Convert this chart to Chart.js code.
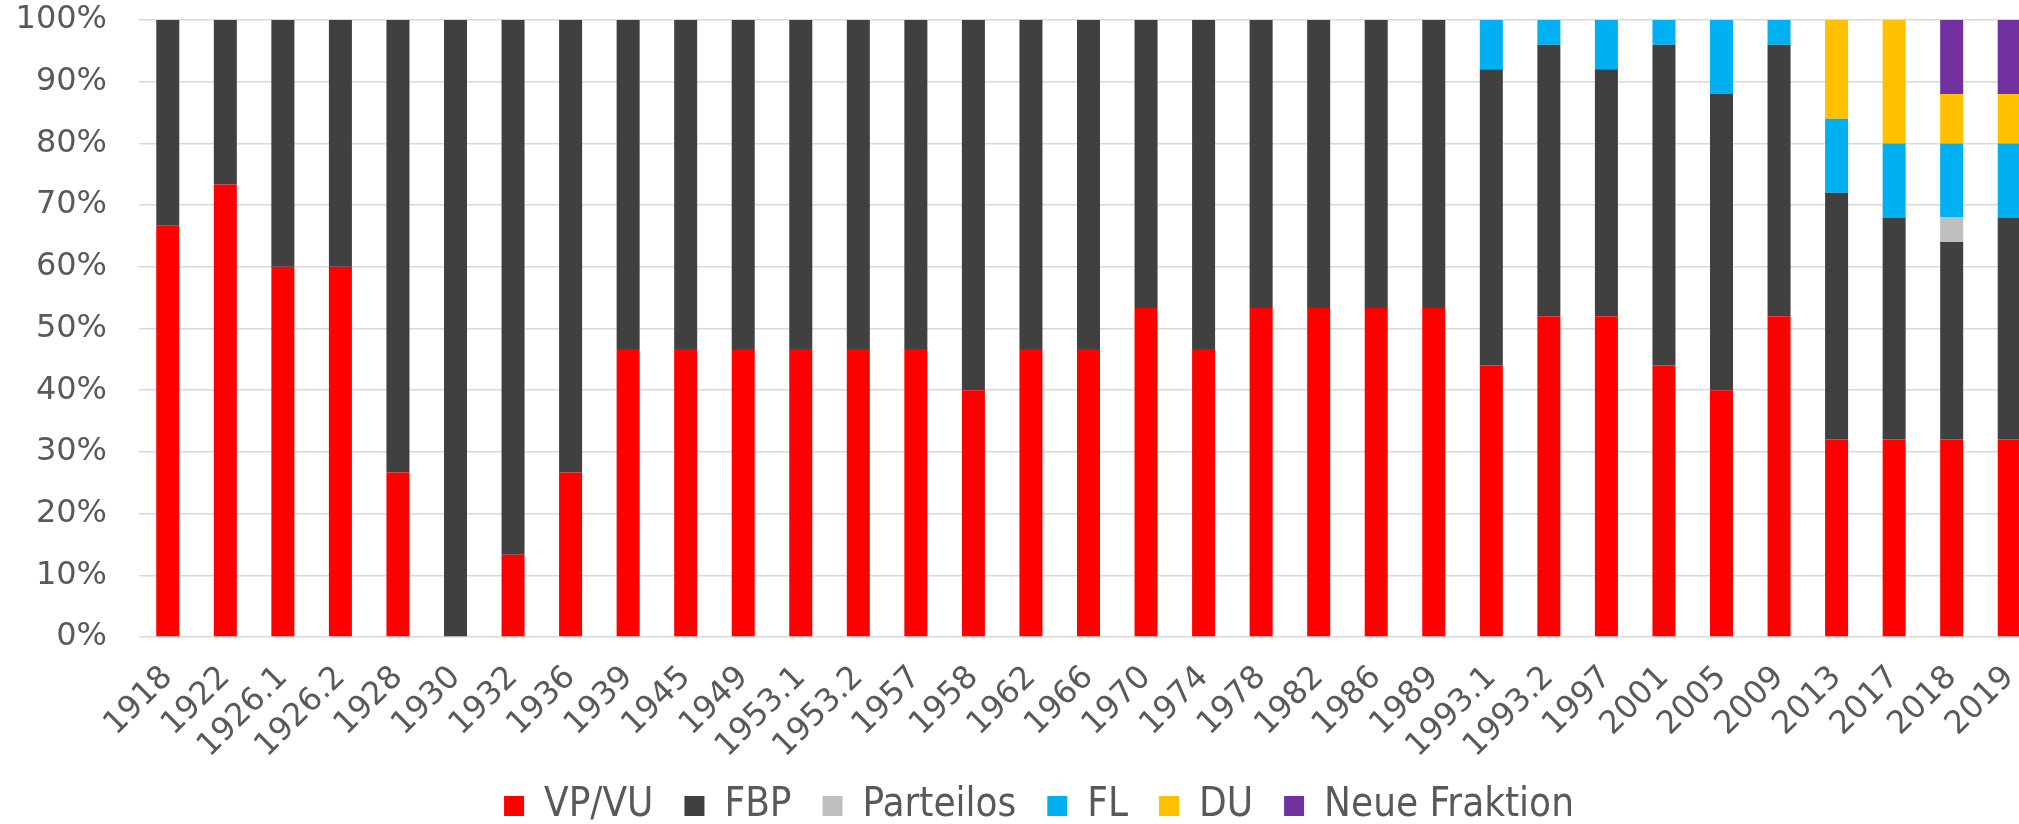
<!DOCTYPE html>
<html>
<head>
<meta charset="utf-8">
<script src="https://cdn.jsdelivr.net/npm/chart.js@4"></script>
<style>
  html, body { margin: 0; padding: 0; overflow: hidden; background: #fff; }
  #wrap { position: absolute; left: 0; top: 0; width: 2076px; height: 836px; }
</style>
</head>
<body>
<div id="wrap"><canvas id="c"></canvas></div>
<script>
const categories = ["1918","1922","1926.1","1926.2","1928","1930","1932","1936","1939","1945","1949","1953.1","1953.2","1957","1958","1962","1966","1970","1974","1978","1982","1986","1989","1993.1","1993.2","1997","2001","2005","2009","2013","2017","2018","2019"];

const vpvu = [66.67,73.33,60,60,26.67,0,13.33,26.67,46.67,46.67,46.67,46.67,46.67,46.67,40,46.67,46.67,53.33,46.67,53.33,53.33,53.33,53.33,44,52,52,44,40,52,32,32,32,32];
const fbp = [33.33,26.67,40,40,73.33,100,86.67,73.33,53.33,53.33,53.33,53.33,53.33,53.33,60,53.33,53.33,46.67,53.33,46.67,46.67,46.67,46.67,48,44,40,52,48,44,40,36,32,36];
const parteilos = [null,null,null,null,null,null,null,null,null,null,null,null,null,null,null,null,null,null,null,null,null,null,null,null,null,null,null,null,null,null,null,4,null];
const fl = [null,null,null,null,null,null,null,null,null,null,null,null,null,null,null,null,null,null,null,null,null,null,null,8,4,8,4,12,4,12,12,12,12];
const du = [null,null,null,null,null,null,null,null,null,null,null,null,null,null,null,null,null,null,null,null,null,null,null,null,null,null,null,null,null,16,20,8,8];
const neueFraktion = [null,null,null,null,null,null,null,null,null,null,null,null,null,null,null,null,null,null,null,null,null,null,null,null,null,null,null,null,null,null,null,12,12];

const yTicks = [0,10,20,30,40,50,60,70,80,90,100];

Chart.defaults.font.family = "'DejaVu Sans', Verdana, sans-serif";
Chart.defaults.color = '#595959';

const mk = (label, data, color) => ({
  label, data, backgroundColor: color, borderWidth: 0,
  barPercentage: 0.4, categoryPercentage: 1.0
});

const shiftLegend = {
  id: 'shiftLegend',
  afterLayout(chart) {
    if (chart.legend) { chart.legend.left += 20; chart.legend.right += 20; }
  }
};

new Chart(document.getElementById('c'), {
  type: 'bar',
  data: {
    labels: categories,
    datasets: [
      mk('VP/VU', vpvu, '#FF0000'),
      mk('FBP', fbp, '#404040'),
      mk('Parteilos', parteilos, '#BFBFBF'),
      mk('FL', fl, '#00B0F0'),
      mk('DU', du, '#FFC000'),
      mk('Neue Fraktion', neueFraktion, '#7030A0')
    ]
  },
  plugins: [shiftLegend],
  options: {
    responsive: true,
    maintainAspectRatio: false,
    animation: false,
    layout: { padding: { top: 20, right: 38, left: 0, bottom: 0 } },
    plugins: {
      tooltip: { enabled: false },
      legend: {
        position: 'bottom',
        labels: {
          boxWidth: 20, boxHeight: 20, padding: 31,
          font: { size: 40, family: "'DejaVu Sans Condensed', 'DejaVu Sans', sans-serif" },
          color: '#595959'
        }
      }
    },
    scales: {
      x: {
        stacked: true,
        grid: { display: false, drawTicks: false },
        border: { display: false },
        ticks: {
          autoSkip: false, minRotation: 45, maxRotation: 45,
          font: { size: 32 }, color: '#595959', padding: 22
        },
        afterFit: (s) => { s.height = 118; }
      },
      y: {
        stacked: true,
        min: 0, max: 100,
        afterBuildTicks: (s) => { s.ticks = yTicks.map(v => ({ value: v })); },
        grid: { color: '#D9D9D9', lineWidth: 1.5, drawTicks: false },
        border: { display: false },
        ticks: {
          font: { size: 32 }, color: '#595959', padding: 32,
          callback: (v) => v + '%'
        },
        afterFit: (s) => { s.width = 139; s.paddingTop = 0; s.paddingBottom = 0; }
      }
    }
  }
});
</script>
</body>
</html>
